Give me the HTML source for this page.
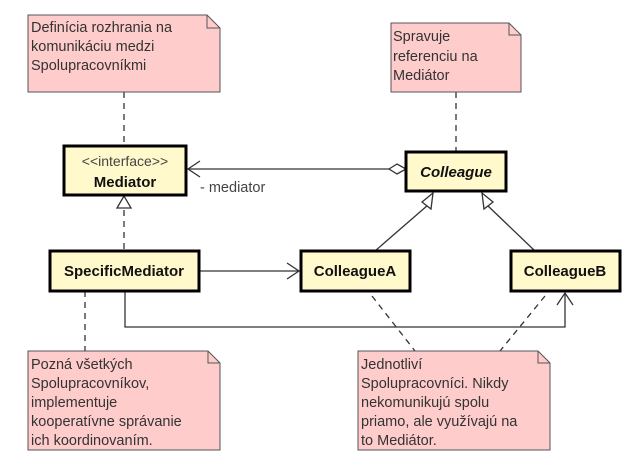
<!DOCTYPE html>
<html><head><meta charset="utf-8"><style>
body{margin:0;background:#fff;width:628px;height:470px;overflow:hidden}
svg{display:block;font-family:"Liberation Sans",sans-serif}
.n{fill:#ffcccc;stroke:#555;stroke-width:1}
.c{fill:#fff9cc;stroke:#000;stroke-width:3}
.nt{font-size:14.5px;fill:#333}
.b{font-size:15px;font-weight:bold;fill:#111}
</style></head><body>
<svg width="628" height="470" viewBox="0 0 628 470">
<g stroke="#333" stroke-width="1.3" fill="none">
<line x1="124" y1="92" x2="124" y2="146" stroke-dasharray="6,5"/>
<line x1="124" y1="210" x2="124" y2="251" stroke-dasharray="6,5"/>
<line x1="456" y1="92" x2="456" y2="152" stroke-dasharray="6,5"/>
<line x1="85" y1="291" x2="85" y2="351" stroke-dasharray="6,5"/>
<line x1="372" y1="296" x2="415" y2="351" stroke-dasharray="6,5"/>
<line x1="545" y1="296" x2="500" y2="351" stroke-dasharray="6,5"/>
<line x1="188" y1="169" x2="389" y2="169"/>
<polyline points="200,161 188,169 200,177"/>
<polygon points="389,169 397,164 406,169 397,174" fill="#fff"/>
<line x1="199" y1="271" x2="299" y2="271"/>
<polyline points="287,263 299,271 287,279"/>
<polyline points="125,291 125,327 565,327 565,293"/>
<polyline points="557,305 565,293 573,305"/>
<line x1="375" y1="251" x2="428" y2="205"/>
<line x1="535" y1="251" x2="487" y2="205"/>
<polygon points="433,193 422,202 431,209" fill="#fff"/>
<polygon points="482,193 484,209 493,202" fill="#fff"/>
<polygon points="124,196 117,208 131,208" fill="#fff"/>
</g>
<path class="n" d="M28,15 H207 L220,28 V92 H28 Z"/><path d="M207,15 V28 H220" fill="none" stroke="#555"/>
<text class="nt" x="31" y="32">Definícia rozhrania na</text>
<text class="nt" x="31" y="51">komunikáciu medzi</text>
<text class="nt" x="31" y="70">Spolupracovníkmi</text>
<path class="n" d="M391,23 H509 L521,35 V92 H391 Z"/><path d="M509,23 V35 H521" fill="none" stroke="#555"/>
<text class="nt" x="393" y="41">Spravuje</text>
<text class="nt" x="393" y="61">referenciu na</text>
<text class="nt" x="393" y="80">Mediátor</text>
<path class="n" d="M28,351 H208 L220,363 V450 H28 Z"/><path d="M208,351 V363 H220" fill="none" stroke="#555"/>
<text class="nt" x="31" y="369">Pozná všetkých</text>
<text class="nt" x="31" y="388">Spolupracovníkov,</text>
<text class="nt" x="31" y="407">implementuje</text>
<text class="nt" x="31" y="426">kooperatívne správanie</text>
<text class="nt" x="31" y="445">ich koordinovaním.</text>
<path class="n" d="M358,351 H538 L550,363 V450 H358 Z"/><path d="M538,351 V363 H550" fill="none" stroke="#555"/>
<text class="nt" x="361" y="369">Jednotliví</text>
<text class="nt" x="361" y="388">Spolupracovníci. Nikdy</text>
<text class="nt" x="361" y="407">nekomunikujú spolu</text>
<text class="nt" x="361" y="426">priamo, ale využívajú na</text>
<text class="nt" x="361" y="445">to Mediátor.</text>
<rect class="c" x="64" y="146" width="122" height="49"/>
<text x="125" y="166" text-anchor="middle" font-size="14" fill="#444">&lt;&lt;interface&gt;&gt;</text>
<text class="b" x="125" y="187" text-anchor="middle">Mediator</text>
<text x="200" y="192" font-size="14.5" fill="#444">- mediator</text>
<rect class="c" x="406" y="152" width="100" height="39"/>
<text class="b" x="456" y="177" text-anchor="middle" font-style="italic">Colleague</text>
<rect class="c" x="50" y="251" width="149" height="40"/>
<text class="b" x="124" y="276" text-anchor="middle">SpecificMediator</text>
<rect class="c" x="301" y="251" width="109" height="40"/>
<text class="b" x="355" y="276" text-anchor="middle">ColleagueA</text>
<rect class="c" x="511" y="251" width="109" height="40"/>
<text class="b" x="565" y="276" text-anchor="middle">ColleagueB</text>
</svg>
</body></html>
